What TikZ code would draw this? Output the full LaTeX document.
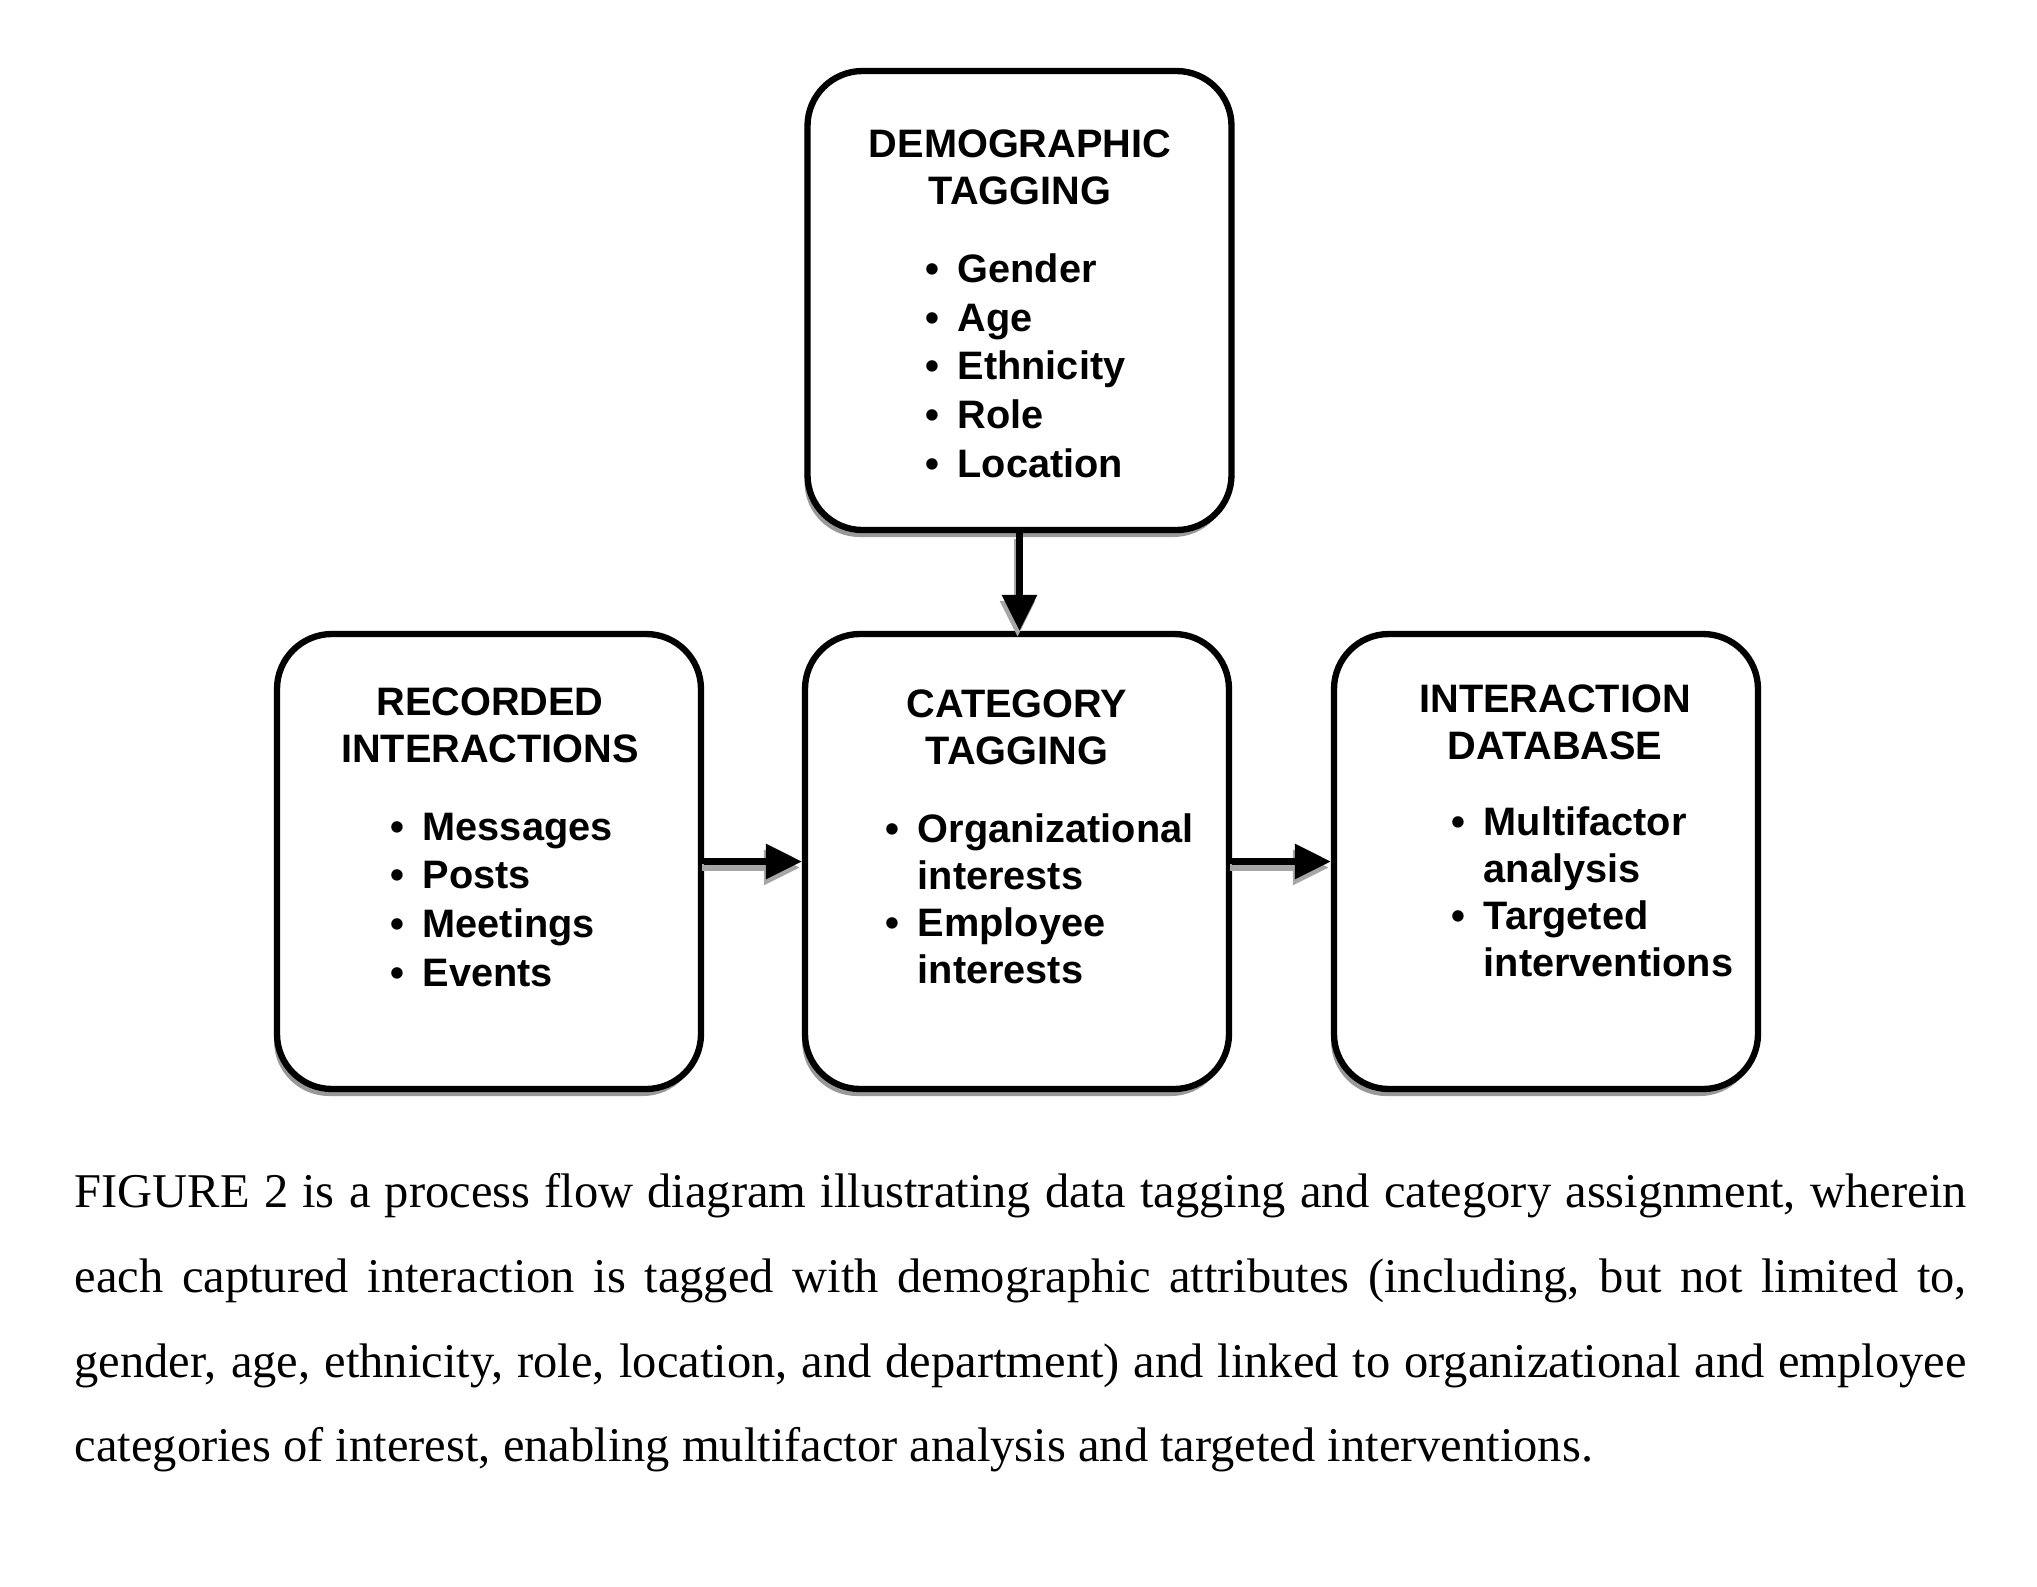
\documentclass[tikz,border=0pt]{standalone}
\usepackage{fontspec}
\setmainfont{Liberation Serif}
\newfontfamily\tagfont{Liberation Sans}
\usetikzlibrary{arrows.meta,shadows}

\newcommand{\tagitem}[1]{\makebox[0.32cm][l]{\textbullet}#1}
\newcommand{\tagcont}[1]{\hspace*{0.32cm}#1}

\begin{document}
\begin{tikzpicture}[
    tagbox/.style={draw, line width=1.8pt, rounded corners=0.55cm, fill=white,
      minimum width=4.24cm, minimum height=4.55cm, inner sep=0pt,
      drop shadow={shadow xshift=-0.03cm, shadow yshift=-0.07cm, fill=black!40, opacity=1}},
    tagtitle/.style={anchor=north, align=center, inner sep=0pt,
      font=\tagfont\bfseries\fontsize{11.3}{13.4}\selectfont},
    taglist/.style={anchor=north west, align=left, inner sep=0pt,
      font=\tagfont\bfseries\fontsize{11.3}{13.85}\selectfont},
    wraplist/.style={taglist, font=\tagfont\bfseries\fontsize{11.3}{13.35}\selectfont},
    flowarrow/.style={line width=1.8pt, -{Triangle[length=0.36cm,width=0.34cm]}},
    arrowshade/.style={flowarrow, draw=black!35, transform canvas={xshift=-0.02cm,yshift=-0.06cm}}
  ]
  \useasboundingbox (0,0) rectangle (20.37,-15.87);

  % boxes
  \node[tagbox, minimum height=4.59cm] (demo) at (10.195,-3.005) {};
  \node[tagbox] (rec) at (4.89,-8.615) {};
  \node[tagbox] (cat) at (10.17,-8.615) {};
  \node[tagbox] (idb) at (15.46,-8.615) {};

  % box texts
  \node[tagtitle] (demo-title) at (10.20,-1.29) {DEMOGRAPHIC\\TAGGING};
  \node[taglist] (demo-list) at (9.25,-2.53)
    {\tagitem{Gender}\\\tagitem{Age}\\\tagitem{Ethnicity}\\\tagitem{Role}\\\tagitem{Location}};

  \node[tagtitle] (rec-title) at (4.90,-6.87) {RECORDED\\INTERACTIONS};
  \node[taglist] (rec-list) at (3.90,-8.12)
    {\tagitem{Messages}\\\tagitem{Posts}\\\tagitem{Meetings}\\\tagitem{Events}};

  \node[tagtitle] (cat-title) at (10.17,-6.89) {CATEGORY\\TAGGING};
  \node[wraplist] (cat-list) at (8.85,-8.13)
    {\tagitem{Organizational}\\\tagcont{interests}\\\tagitem{Employee}\\\tagcont{interests}};

  \node[tagtitle] (idb-title) at (15.55,-6.84) {INTERACTION\\DATABASE};
  \node[wraplist] (idb-list) at (14.51,-8.06)
    {\tagitem{Multifactor}\\\tagcont{analysis}\\\tagitem{Targeted}\\\tagcont{interventions}};

  % connectors
  \draw[arrowshade] (demo.south) -- (demo.south |- cat.north);
  \draw[flowarrow] (demo.south) -- (demo.south |- cat.north);
  \foreach \a/\b in {rec/cat, cat/idb} {
    \draw[arrowshade] (\a.east) -- (\b.west);
    \draw[flowarrow] (\a.east) -- (\b.west);
  }

  % caption
  \node[anchor=north west, inner sep=0pt, text width=18.92cm, align=justify,
    font=\fontsize{13.8}{24.1}\selectfont] (caption) at (0.74,-11.73)
    {FIGURE 2 is a process flow diagram illustrating data tagging and category assignment, wherein\linebreak
     each captured interaction is tagged with demographic attributes (including, but not limited to,\linebreak
     gender, age, ethnicity, role, location, and department) and linked to organizational and employee\linebreak
     categories of interest, enabling multifactor analysis and targeted interventions.};
\end{tikzpicture}
\end{document}
